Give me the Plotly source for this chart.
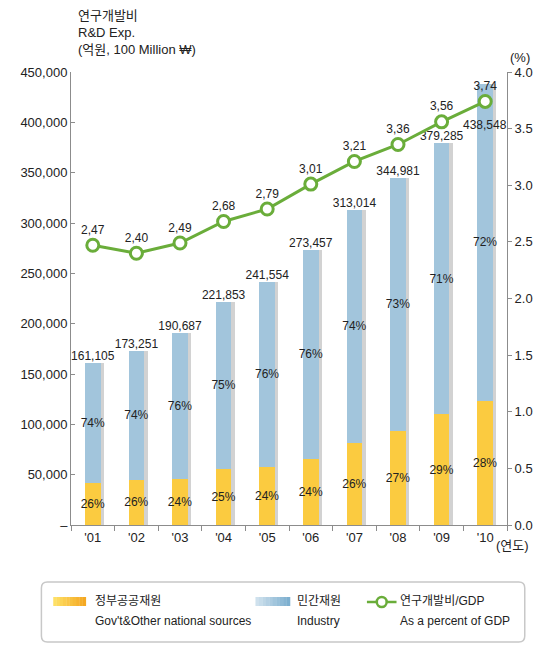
import plotly.graph_objects as go

years = ["'01", "'02", "'03", "'04", "'05", "'06", "'07", "'08", "'09", "'10"]
totals = [161105, 173251, 190687, 221853, 241554, 273457, 313014, 344981, 379285, 438548]
total_labels = ["161,105", "173,251", "190,687", "221,853", "241,554",
                "273,457", "313,014", "344,981", "379,285", "438,548"]
gov = [41887, 45045, 45765, 55463, 57973, 65630, 81384, 93145, 109993, 122793]
industry = [119218, 128206, 144922, 166390, 183581, 207827, 231630, 251836, 269292, 315755]
gov_pct = ["26%", "26%", "24%", "25%", "24%", "24%", "26%", "27%", "29%", "28%"]
ind_pct = ["74%", "74%", "76%", "75%", "76%", "76%", "74%", "73%", "71%", "72%"]
gdp_pct = [2.47, 2.40, 2.49, 2.68, 2.79, 3.01, 3.21, 3.36, 3.56, 3.74]
gdp_labels = ["2,47", "2,40", "2,49", "2,68", "2,79", "3,01", "3,21", "3,36", "3,56", "3,74"]

left_ticks = [0, 50000, 100000, 150000, 200000, 250000, 300000, 350000, 400000, 450000]
left_ticktext = ["–", "50,000", "100,000", "150,000", "200,000", "250,000",
                 "300,000", "350,000", "400,000", "450,000"]

OFF = 8  # page body margin
W, H = 545 - OFF, 657 - OFF
ML, MT = 70 - OFF, 72 - OFF
MR = W - (512 - OFF)
MB = H - (525 - OFF)
PW, PH = W - ML - MR, H - MT - MB

FONT = "Liberation Sans, Arial, Noto Sans CJK KR, sans-serif"
TXT = "#222222"
GREEN = "#6AAD3A"
GOV_C = "#FBCB40"
IND_C = "#A2C5DC"
AX_C = "#8C8C8C"


def px(x):
    return (x - OFF - ML) / PW


def py(y):
    return (H - MB - (y - OFF)) / PH


fig = go.Figure()

# shadow bars (base axis, shifted right)
fig.add_trace(go.Bar(x=years, y=totals, xaxis="x", yaxis="y", width=0.36,
                     marker=dict(color="#D2D2D2", line=dict(width=0)),
                     hoverinfo="skip", showlegend=False))

fig.add_trace(go.Bar(x=years, y=gov, xaxis="x2", yaxis="y", width=0.36,
                     name="정부공공재원", text=gov_pct, textposition="inside",
                     insidetextanchor="middle", textangle=0, constraintext="none",
                     insidetextfont=dict(color=TXT, size=12, family=FONT),
                     marker=dict(color=GOV_C, line=dict(width=0)), showlegend=False))
fig.add_trace(go.Bar(x=years, y=industry, xaxis="x2", yaxis="y", width=0.36,
                     name="민간재원", text=ind_pct, textposition="inside",
                     insidetextanchor="middle", textangle=0, constraintext="none",
                     insidetextfont=dict(color=TXT, size=12, family=FONT),
                     marker=dict(color=IND_C, line=dict(width=0)), showlegend=False))

# total labels above bars (last one sits under the GDP marker, as in the reference)
fig.add_trace(go.Scatter(x=years[:-1], y=totals[:-1], xaxis="x2", yaxis="y", mode="text",
                         text=total_labels[:-1], textposition="top center",
                         textfont=dict(color=TXT, size=12, family=FONT),
                         showlegend=False, cliponaxis=False))

fig.add_trace(go.Scatter(x=years, y=gdp_pct, xaxis="x2", yaxis="y2",
                         mode="lines+markers+text", text=gdp_labels,
                         textposition="top center",
                         textfont=dict(color=TXT, size=12, family=FONT),
                         line=dict(color=GREEN, width=3),
                         marker=dict(symbol="circle", size=12, color="white",
                                     line=dict(color=GREEN, width=3)),
                         showlegend=False, cliponaxis=False))

d = 0.075
fig.update_layout(
    width=W, height=H,
    margin=dict(l=ML, r=MR, t=MT, b=MB),
    paper_bgcolor="white", plot_bgcolor="white",
    font=dict(family=FONT, size=13, color=TXT),
    barmode="stack",
    xaxis=dict(type="category", range=[-0.5 - d, 9.5 - d], visible=False,
               fixedrange=True),
    xaxis2=dict(type="category", overlaying="x", anchor="y", side="bottom",
                range=[-0.5, 9.5], showline=True, linecolor=AX_C, linewidth=1,
                ticks="outside", tickson="boundaries", ticklen=5, tickcolor=AX_C,
                showgrid=False, tickfont=dict(size=13, color=TXT, family=FONT)),
    yaxis=dict(range=[0, 450000], tickvals=left_ticks, ticktext=left_ticktext,
               showline=True, linecolor=AX_C, linewidth=1, ticks="inside",
               ticklen=4, tickcolor=AX_C, showgrid=False, zeroline=False,
               tickfont=dict(size=13, color=TXT, family=FONT)),
    yaxis2=dict(range=[0, 4], overlaying="y", side="right", anchor="x2",
                dtick=0.5, tickformat=".1f", showline=True, linecolor=AX_C,
                linewidth=1, ticks="outside", ticklen=4, tickcolor=AX_C,
                showgrid=False, zeroline=False,
                tickfont=dict(size=13, color=TXT, family=FONT)),
)

ann = []
ann.append(dict(x=years[-1], y=totals[-1], xref="x2", yref="y", xanchor="center",
                yanchor="middle", yshift=-41, showarrow=False, text=total_labels[-1],
                font=dict(size=12, color=TXT, family=FONT)))
ann.append(dict(x=px(75), y=py(6), xref="paper", yref="paper", xanchor="left",
                yanchor="top", align="left", showarrow=False,
                text="연구개발비<br>R&D Exp.<br>(억원, 100 Million ₩)",
                font=dict(size=13, color=TXT, family=FONT)))
ann.append(dict(x=px(525), y=py(57), xref="paper", yref="paper", xanchor="center",
                yanchor="middle", showarrow=False, text="(%)",
                font=dict(size=13, color=TXT, family=FONT)))
ann.append(dict(x=px(518), y=py(545), xref="paper", yref="paper", xanchor="center",
                yanchor="middle", showarrow=False, text="(연도)",
                font=dict(size=13, color=TXT, family=FONT)))

shapes = []
# legend box (rounded)
x0, x1, y0, y1, r = 40, 530, 582, 642, 6


def P(x, y):
    return f"{px(x)},{py(y)}"


path = (f"M {P(x0 + r, y0)} L {P(x1 - r, y0)} Q {P(x1, y0)} {P(x1, y0 + r)} "
        f"L {P(x1, y1 - r)} Q {P(x1, y1)} {P(x1 - r, y1)} "
        f"L {P(x0 + r, y1)} Q {P(x0, y1)} {P(x0, y1 - r)} "
        f"L {P(x0, y0 + r)} Q {P(x0, y0)} {P(x0 + r, y0)} Z")
shapes.append(dict(type="path", xref="paper", yref="paper", path=path,
                   line=dict(color="#C8C8C8", width=1.5), fillcolor="white",
                   layer="below"))


def lerp(c1, c2, t):
    a = [int(c1[i:i + 2], 16) for i in (1, 3, 5)]
    b = [int(c2[i:i + 2], 16) for i in (1, 3, 5)]
    return "rgb(%d,%d,%d)" % tuple(round(a[k] + (b[k] - a[k]) * t) for k in range(3))


def swatch(xa, xb, ya, yb, c1, c2, n=10):
    step = (xb - xa) / n
    for i in range(n):
        shapes.append(dict(type="rect", xref="paper", yref="paper",
                           x0=px(xa + i * step), x1=px(xa + (i + 1) * step + 0.3),
                           y0=py(yb), y1=py(ya), line=dict(width=0),
                           fillcolor=lerp(c1, c2, (i + 0.5) / n)))


swatch(52, 85, 597, 606, "#FFE36A", "#F3A51E")
swatch(257, 292, 597, 606, "#D4E4EF", "#78ACCD")
shapes.append(dict(type="line", xref="paper", yref="paper", x0=px(370), x1=px(400),
                   y0=py(602), y1=py(602), line=dict(color=GREEN, width=2.5)))
shapes.append(dict(type="circle", xref="paper", yref="paper", x0=px(380), x1=px(390),
                   y0=py(607), y1=py(597), fillcolor="white",
                   line=dict(color=GREEN, width=2.5)))

legend_items = [(92, "정부공공재원", "Gov't&Other national sources"),
                (297, "민간재원", "Industry"),
                (402, "연구개발비/GDP", "As a percent of GDP")]
for xl, l1, l2 in legend_items:
    ann.append(dict(x=px(xl), y=py(601), xref="paper", yref="paper", xanchor="left",
                    yanchor="middle", showarrow=False, text=l1,
                    font=dict(size=12, color=TXT, family=FONT)))
    ann.append(dict(x=px(xl), y=py(621), xref="paper", yref="paper", xanchor="left",
                    yanchor="middle", showarrow=False, text=l2,
                    font=dict(size=12, color=TXT, family=FONT)))

fig.update_layout(annotations=ann, shapes=shapes)
fig.write_html("out.html")
